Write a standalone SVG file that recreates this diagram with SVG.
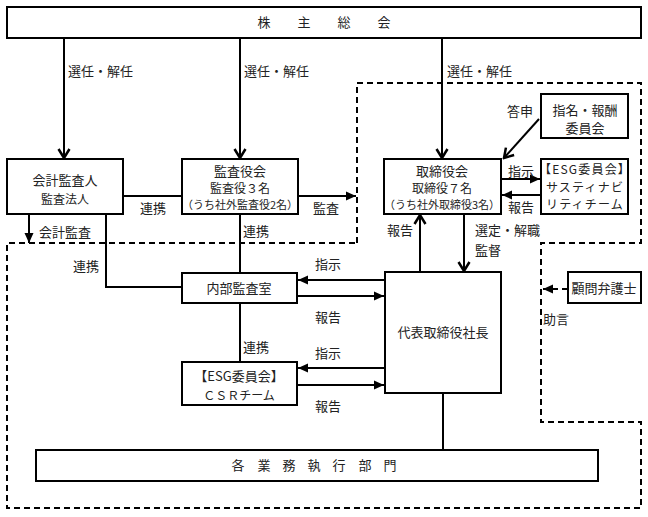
<svg xmlns="http://www.w3.org/2000/svg" width="648" height="517" viewBox="0 0 648 517">
<style>
text{font-family:"Noto Sans CJK JP","Noto Sans CJK SC",sans-serif;font-size:13px;fill:#222}
.c{text-anchor:middle}
.s12{font-size:12px}
.s11{font-size:11px}
.wide{font-size:12px;letter-spacing:1.2px}
.box{fill:#fff;stroke:#000;stroke-width:2}
.ln{fill:none;stroke:#000;stroke-width:2}
.dash{fill:none;stroke:#000;stroke-width:2;stroke-dasharray:6 4}
</style>
<defs>
<marker id="chev" markerUnits="userSpaceOnUse" viewBox="-12 -8 14 16" refX="0" refY="0" markerWidth="14" markerHeight="16" orient="auto">
<polyline points="-9,-5.5 0,0 -9,5.5" fill="none" stroke="#000" stroke-width="2.5"/>
</marker>
<marker id="tri" markerUnits="userSpaceOnUse" viewBox="-12 -6 13 12" refX="0" refY="0" markerWidth="13" markerHeight="12" orient="auto">
<path d="M0,0 L-10,-4.5 L-10,4.5 Z" fill="#000"/>
</marker>
</defs>
<rect width="648" height="517" fill="#fff"/>

<path id="scope" class="dash" d="M357,243 L357,83 L641,83 L641,243 L541,243 L541,422 L641,422 L641,508 L7,508 L7,243 Z"/>

<g id="connectors">
<line class="ln" x1="64" y1="38" x2="64" y2="158" marker-end="url(#chev)"/>
<line class="ln" x1="240" y1="38" x2="240" y2="158" marker-end="url(#chev)"/>
<line class="ln" x1="442" y1="38" x2="442" y2="158" marker-end="url(#chev)"/>
<line class="ln" x1="123" y1="196" x2="182" y2="196"/>
<line class="ln" x1="298" y1="196" x2="356" y2="196" marker-end="url(#tri)"/>
<line class="ln" x1="29" y1="214" x2="29" y2="243" marker-end="url(#tri)"/>
<polyline class="ln" points="106,214 106,287 182,287"/>
<line class="ln" x1="240" y1="214" x2="240" y2="273"/>
<line class="ln" x1="240" y1="303" x2="240" y2="362"/>
<line class="ln" x1="385" y1="280" x2="298" y2="280" marker-end="url(#tri)"/>
<line class="ln" x1="297" y1="296" x2="384" y2="296" marker-end="url(#tri)"/>
<line class="ln" x1="385" y1="368" x2="298" y2="368" marker-end="url(#tri)"/>
<line class="ln" x1="297" y1="385" x2="384" y2="385" marker-end="url(#tri)"/>
<line class="ln" x1="420" y1="272" x2="420" y2="215" marker-end="url(#chev)"/>
<line class="ln" x1="464" y1="214" x2="464" y2="271" marker-end="url(#chev)"/>
<line class="ln" x1="443" y1="393" x2="443" y2="450"/>
<line class="ln" x1="501" y1="179" x2="540" y2="179" marker-end="url(#tri)"/>
<line class="ln" x1="541" y1="195" x2="502" y2="195" marker-end="url(#tri)"/>
<line class="ln" x1="539" y1="119" x2="504" y2="158" marker-end="url(#chev)"/>
<line class="dash" x1="568" y1="289" x2="543" y2="289" marker-end="url(#tri)"/>
<text x="68" y="76">選任・解任</text>
<text x="244" y="76">選任・解任</text>
<text x="447" y="76">選任・解任</text>
<text class="c" x="153" y="213">連携</text>
<text x="313" y="213">監査</text>
<text x="39" y="237">会計監査</text>
<text class="c" x="86" y="271">連携</text>
<text x="243" y="236">連携</text>
<text class="c" x="520" y="116">答申</text>
<text class="c" x="521" y="176">指示</text>
<text class="c" x="521" y="212">報告</text>
<text class="c" x="400" y="235">報告</text>
<text x="475" y="235">選定・解職</text>
<text x="475" y="255">監督</text>
<text class="c" x="328" y="269">指示</text>
<text class="c" x="328" y="322">報告</text>
<text x="243" y="352">連携</text>
<text class="c" x="328" y="358">指示</text>
<text class="c" x="328" y="411">報告</text>
<text x="543" y="324">助言</text>
</g>

<g id="shareholders">
<rect class="box" x="7" y="7" width="634" height="31"/>
<text class="c" x="264 304 344 384" y="27">株主総会</text>
</g>
<g id="auditor">
<rect class="box" x="7" y="159" width="116" height="55"/>
<text class="c" x="65" y="185">会計監査人</text>
<text class="c s12" x="65" y="204">監査法人</text>
</g>
<g id="audit-board">
<rect class="box" x="182" y="159" width="116" height="55"/>
<text class="c" x="240" y="176">監査役会</text>
<text class="c s12" x="240" y="193">監査役３名</text>
<text class="c s11" x="240" y="209">（うち社外監査役2名）</text>
</g>
<g id="board">
<rect class="box" x="384" y="159" width="117" height="55"/>
<text class="c" x="442" y="176">取締役会</text>
<text class="c s12" x="442" y="193">取締役７名</text>
<text class="c s11" x="442" y="209">（うち社外取締役3名）</text>
</g>
<g id="nomination">
<rect class="box" x="541" y="94" width="87" height="44"/>
<text class="c" x="585" y="115">指名・報酬</text>
<text class="c" x="585" y="133">委員会</text>
</g>
<g id="esg-sustainability">
<rect class="box" x="541" y="159" width="87" height="55"/>
<text class="c wide" x="585" y="174">【ESG委員会】</text>
<text class="c wide" x="585" y="191.5">サスティナビ</text>
<text class="c wide" x="585" y="209">リティチーム</text>
</g>
<g id="internal-audit">
<rect class="box" x="182" y="273" width="115" height="30"/>
<text class="c" x="239" y="293">内部監査室</text>
</g>
<g id="esg-csr">
<rect class="box" x="182" y="362" width="115" height="43"/>
<text class="c" x="239" y="381">【ESG委員会】</text>
<text class="c s12" x="239" y="400">ＣＳＲチーム</text>
</g>
<g id="president">
<rect class="box" x="385" y="272" width="116" height="121"/>
<text class="c" x="443" y="337">代表取締役社長</text>
</g>
<g id="counsel">
<rect class="box" x="568" y="272" width="73" height="31"/>
<text class="c" x="604" y="293">顧問弁護士</text>
</g>
<g id="divisions">
<rect class="box" x="36" y="450" width="562" height="31"/>
<text class="c" x="238 264 289 314 339 365 390" y="470">各業務執行部門</text>
</g>
</svg>
